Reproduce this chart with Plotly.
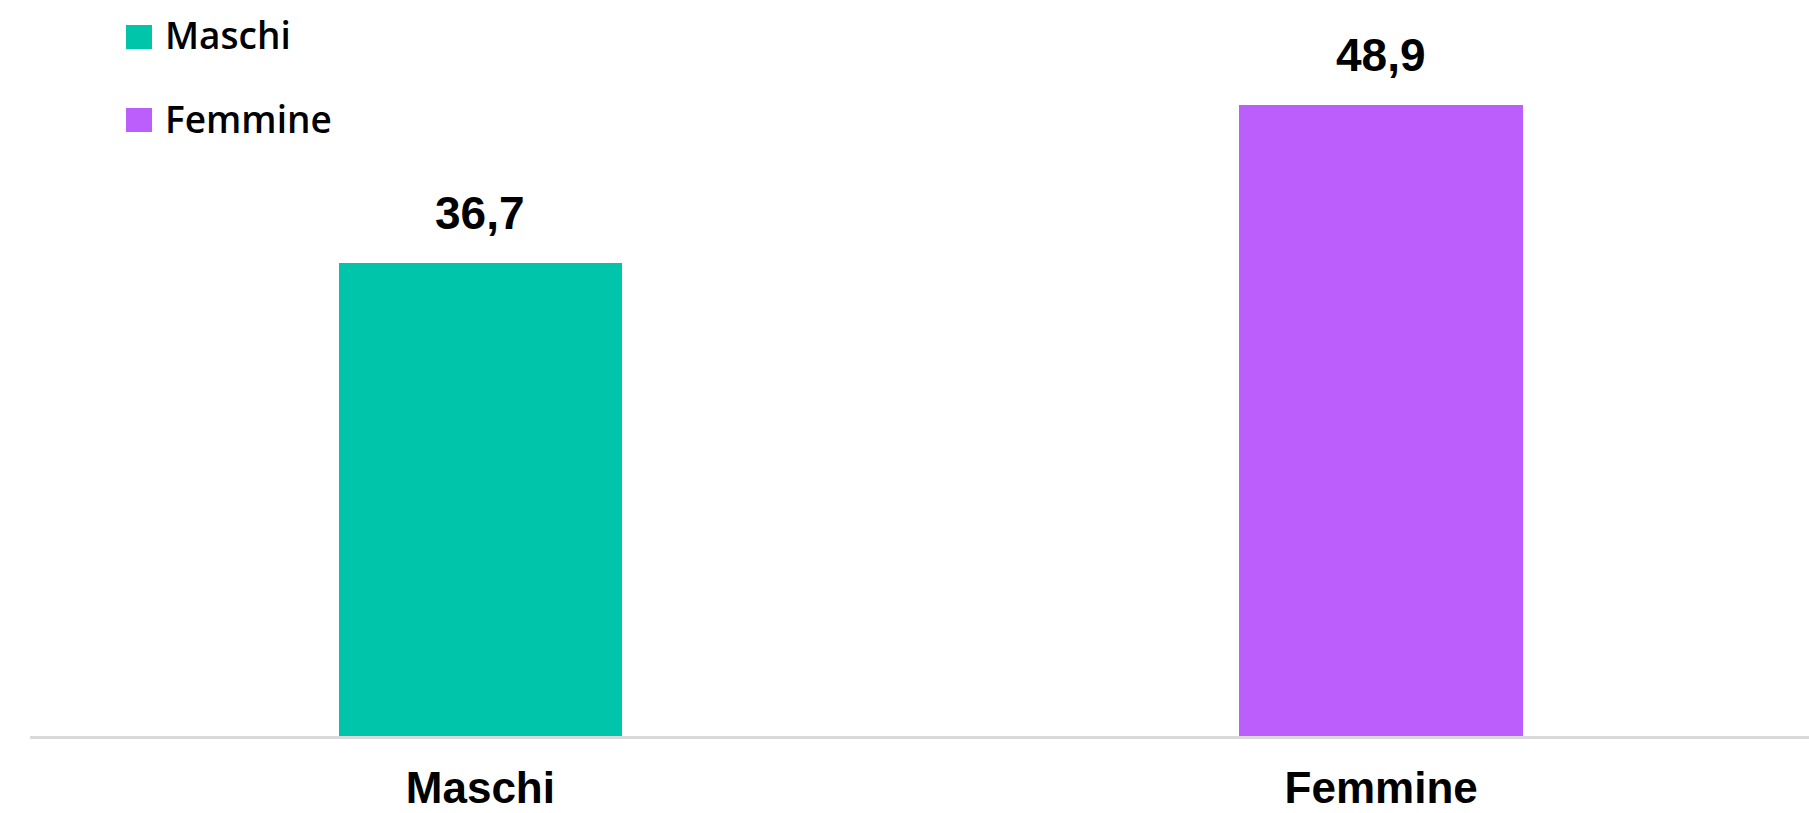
import plotly.graph_objects as go

# dati
categorie = ["Maschi", "Femmine"]
valori = [36.7, 48.9]
colori = ["#00C5AA", "#BB5EFC"]

W, H = 1809, 813
M_L, M_R, M_T, M_B = 30, 0, 0, 77
plot_w = W - M_L - M_R
plot_h = H - M_T - M_B


def px_x(px):
    # pixel orizzontale -> coordinata paper
    return (px - M_L) / plot_w


def px_y(py):
    # pixel verticale -> coordinata paper
    return (H - M_B - py) / plot_h


fig = go.Figure()
fig.add_trace(go.Bar(
    x=categorie,
    y=valori,
    marker_color=colori,
    marker_line_width=0,
    width=0.315,
    showlegend=False,
    hoverinfo="x+y",
))

# etichette dei valori sopra le barre
for cat, val in zip(categorie, valori):
    fig.add_annotation(
        x=cat, y=val, xref="x", yref="y",
        text=f"{val:.1f}".replace(".", ","),
        showarrow=False, yanchor="bottom", yshift=22,
        font=dict(family="Liberation Sans", size=46, color="#000000", weight="bold"),
    )

# legenda disegnata a mano (quadrati grandi come nell'originale)
leg_y = [37, 120]
for cat, col, cy in zip(categorie, colori, leg_y):
    fig.add_shape(
        type="rect", xref="paper", yref="paper",
        x0=px_x(126), x1=px_x(152), y0=px_y(cy - 12), y1=px_y(cy + 12),
        fillcolor=col, line_width=0,
    )
    fig.add_annotation(
        x=px_x(163), y=px_y(cy - 2), xref="paper", yref="paper",
        text=cat, showarrow=False, xanchor="left", yanchor="middle",
        font=dict(family="Open Sans", size=37, color="#000000", weight=600),
    )

fig.update_layout(
    width=W, height=H,
    margin=dict(l=M_L, r=M_R, t=M_T, b=M_B, autoexpand=False),
    paper_bgcolor="white",
    plot_bgcolor="white",
    showlegend=False,
    bargap=0,
)
fig.update_xaxes(
    range=[-0.5, 1.475],
    automargin=False,
    showline=True, linecolor="#D9D9D9", linewidth=3,
    showgrid=False, zeroline=False, ticks="",
    ticklabelstandoff=11,
    tickfont=dict(family="Liberation Sans", size=44, color="#000000", weight="bold"),
)
fig.update_yaxes(range=[0, 57.05], visible=False, fixedrange=True, automargin=False)

fig.write_html(
    "out.html",
    config={"displayModeBar": False},
    post_script="document.body.style.margin='0';document.body.style.overflow='hidden';",
)
